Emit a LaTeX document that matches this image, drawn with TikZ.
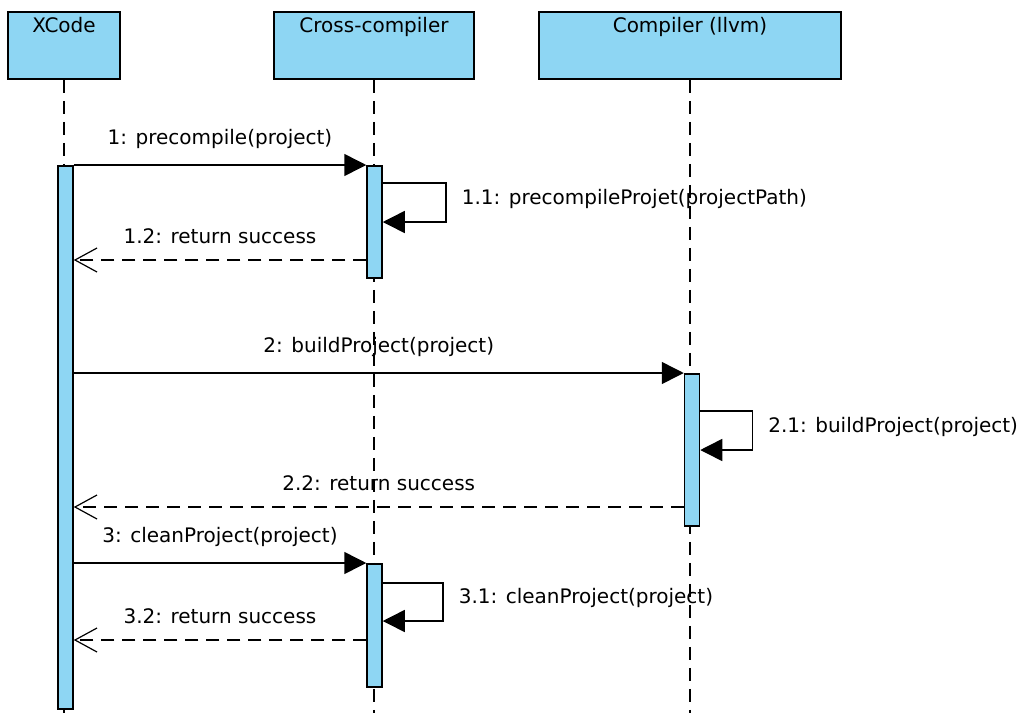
\documentclass[tikz,border=0pt]{standalone}
\usepackage{fontspec}
\setmainfont{DejaVu Sans}
\usetikzlibrary{arrows.meta, positioning, calc}
\definecolor{actblue}{HTML}{8ED6F3}

\begin{document}
\begin{tikzpicture}[x=1pt, y=-1pt, line width=1.5pt,
  font=\fontsize{20}{24}\selectfont,
  head/.style={draw, fill=actblue, minimum width=#1, minimum height=67pt, inner sep=0pt},
  act/.style={draw, fill=actblue, minimum width=15pt, minimum height=#1, anchor=north, inner sep=0pt},
  lifeline/.style={dash pattern=on 13pt off 8pt},
  call/.style={-{Triangle[length=22pt, width=22pt]}},
  reply/.style={dash pattern=on 13pt off 8pt, -{Straight Barb[length=22pt, width=24pt, line width=1.2pt]}},
  msg/.style={midway, above=12pt},
  selfmsg/.style={pos=0.25, right=12pt, yshift=4pt}]
  \useasboundingbox (0,0) rectangle (1023,713);

  % Heads of the lifelines
  \node[head=112pt, label={[anchor=north, yshift=-2pt]north:XCode}] (xcode) at (64,45.5) {};
  \node[head=200pt, label={[anchor=north, yshift=-2pt]north:Cross-compiler}] (cross) at (374,45.5) {};
  \node[head=302pt, label={[anchor=north, yshift=-2pt]north:Compiler (llvm)}] (llvm) at (690,45.5) {};

  % Lifelines down to the bottom edge
  \coordinate (bottom) at (0,713);
  \draw[lifeline] (xcode.south) -- (xcode.south |- bottom);
  \draw[lifeline] (cross.south) -- (cross.south |- bottom);
  \draw[lifeline] (llvm.south) -- (llvm.south |- bottom);

  % Activation bars
  \node[act=543pt] (xact) at (65.5,165) {};
  \node[act=112pt] (cact1) at (374.5,165) {};
  \node[act=152pt] (lact) at (692,373) {};
  \node[act=123pt] (cact2) at (374.5,563) {};

  % 1: precompile
  \draw[call] (xact.north east) -- (cact1.north west) node[msg] {1: precompile(project)};
  \draw[call] ([yshift=-18pt]cact1.north east) -- ++(63,0)
    |- ([yshift=-57pt]cact1.north east) node[selfmsg] {1.1: precompileProjet(projectPath)};
  \coordinate (r1) at ([yshift=-95pt]cact1.north west);
  \draw[reply] (r1) -- (xact.east |- r1) node[msg] {1.2: return success};

  % 2: buildProject
  \draw[call] (xact.east |- lact.north) -- (lact.north west) node[msg] {2: buildProject(project)};
  \draw[call] ([yshift=-38pt]lact.north east) -- ++(52,0)
    |- ([yshift=-77pt]lact.north east) node[selfmsg] {2.1: buildProject(project)};
  \coordinate (r2) at ([yshift=-134pt]lact.north west);
  \draw[reply] (r2) -- (xact.east |- r2) node[msg] {2.2: return success};

  % 3: cleanProject
  \draw[call] (xact.east |- cact2.north) -- (cact2.north west) node[msg] {3: cleanProject(project)};
  \draw[call] ([yshift=-20pt]cact2.north east) -- ++(60,0)
    |- ([yshift=-58pt]cact2.north east) node[selfmsg] {3.1: cleanProject(project)};
  \coordinate (r3) at ([yshift=-77pt]cact2.north west);
  \draw[reply] (r3) -- (xact.east |- r3) node[msg] {3.2: return success};
\end{tikzpicture}
\end{document}
